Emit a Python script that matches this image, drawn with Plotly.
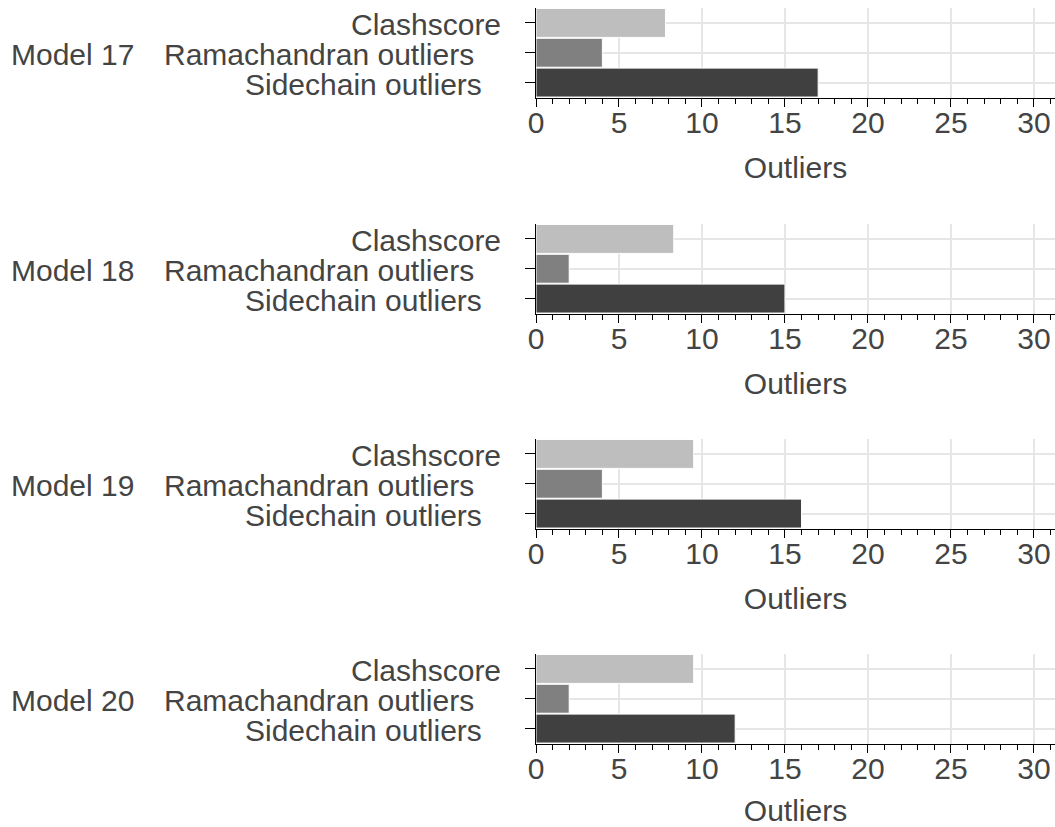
import plotly.graph_objects as go

# ---- data ----
models = ["Model 17", "Model 18", "Model 19", "Model 20"]
metrics = ["Clashscore", "Ramachandran outliers", "Sidechain outliers"]
clashscore = [7.8, 8.3, 9.5, 9.5]
ramachandran = [4, 2, 4, 2]
sidechain = [17, 15, 16, 12]
x_tick_vals = [0, 5, 10, 15, 20, 25, 30]
x_title = "Outliers"

# ---- style / layout constants (page px) ----
metric_colors = ["#bebebe", "#808080", "#404040"]
W, H = 1055, 827
L = 536                       # left edge of plot area
plot_tops = [8, 224, 439, 654]
plot_h = 89.5
label_right_px = [503, 476, 484]
model_center_px = 72.7
FONT = "Liberation Sans, Arial, sans-serif"
TXT = "#444444"
FS = 30

def px_to_paper_x(px):
    return (px - L) / (W - L)

fig = go.Figure()
annotations = []
values_by_model = list(zip(clashscore, ramachandran, sidechain))

for i, (model, vals) in enumerate(zip(models, values_by_model)):
    n = "" if i == 0 else str(i + 1)
    xa, ya = "x" + n, "y" + n
    fig.add_trace(go.Bar(
        x=list(vals), y=metrics, orientation="h",
        marker=dict(color=metric_colors, line=dict(color="white", width=1)),
        xaxis=xa, yaxis=ya, showlegend=False,
        hovertemplate="%{y}: %{x}<extra>" + model + "</extra>",
    ))
    top = plot_tops[i]
    dom = [1 - (top + plot_h) / H, 1 - top / H]
    fig.update_layout(**{
        "xaxis" + n: dict(
            domain=[0, 1], anchor=ya, range=[0, 31.27],
            tickvals=x_tick_vals, ticks="outside", ticklen=8, tickwidth=1,
            tickcolor="black", showline=True, linecolor="black", linewidth=1,
            showgrid=True, gridcolor="#e6e6e6", gridwidth=1.5, zeroline=False,
            minor=dict(dtick=1, ticks="outside", ticklen=5, tickcolor="black",
                       tickwidth=1, showgrid=False),
            tickfont=dict(family=FONT, size=FS, color=TXT),
            ticklabelstandoff=-10,
            title=dict(text=x_title, font=dict(family=FONT, size=FS, color=TXT),
                       standoff=19),
            automargin=False,
        ),
        "yaxis" + n: dict(
            domain=dom, anchor=xa, type="category",
            categoryorder="array", categoryarray=metrics[::-1],
            range=[-0.5, 2.5],
            ticks="outside", ticklen=10, tickwidth=1, tickcolor="black",
            showline=True, linecolor="black", linewidth=1,
            showgrid=True, gridcolor="#e6e6e6", gridwidth=1.5,
            showticklabels=False, automargin=False,
        ),
    })
    for m, rpx in zip(metrics, label_right_px):
        annotations.append(dict(
            text=m, xref="paper", yref=ya, x=px_to_paper_x(rpx), y=m,
            xanchor="right", yanchor="middle", showarrow=False, yshift=-2,
            font=dict(family=FONT, size=FS, color=TXT),
        ))
    annotations.append(dict(
        text=model, xref="paper", yref=ya, x=px_to_paper_x(model_center_px),
        y=metrics[1], xanchor="center", yanchor="middle", showarrow=False,
        yshift=-2, font=dict(family=FONT, size=FS, color=TXT),
    ))

fig.update_layout(
    width=W, height=H,
    margin=dict(l=L, r=0, t=0, b=0, autoexpand=False),
    paper_bgcolor="white", plot_bgcolor="white",
    bargap=0.03, annotations=annotations,
    font=dict(family=FONT, size=FS, color=TXT),
)

fig.write_html(
    "out.html",
    config={"displayModeBar": False},
    post_script="document.body.style.margin='0';document.body.style.overflow='hidden';",
)
